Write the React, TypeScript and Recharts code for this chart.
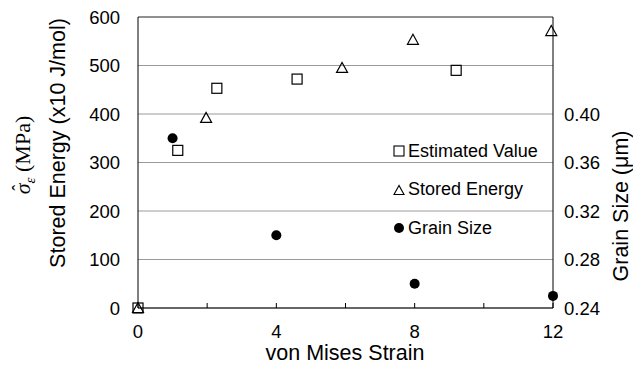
import React from 'react';
import {
  ComposedChart,
  Scatter,
  XAxis,
  YAxis,
  CartesianGrid,
  Legend,
  ReferenceLine,
} from 'recharts';

// Estimated value (open squares)
const estStrain = [0, 1.15, 2.28, 4.6, 9.2];
const estValue = [0, 325, 453, 472, 490];

// Stored energy (open triangles), x10 J/mol
const storedStrain = [0, 1.97, 5.9, 7.95, 11.95];
const storedEnergy = [0, 392, 495, 553, 571];

// Grain size (filled circles), um
const grainStrain = [1, 4, 8, 12];
const grainSize = [0.38, 0.3, 0.26, 0.25];

const xTicks = [0, 2, 4, 6, 8, 10, 12];
const xLabelTicks = [0, 4, 8, 12];
const leftTicks = [0, 100, 200, 300, 400, 500, 600];
const rightTicks = [0.24, 0.28, 0.32, 0.36, 0.4];

const FONT = 'Arial, "Liberation Sans", Helvetica, sans-serif';
const SERIF = '"Liberation Serif", "Times New Roman", serif';

const toPoints = (xs: number[], ys: number[]) => xs.map((x, i) => ({ x, y: ys[i] }));

const estData = toPoints(estStrain, estValue);
const storedData = toPoints(storedStrain, storedEnergy);
const grainData = toPoints(grainStrain, grainSize);

const SquareShape = (p: any) => (
  <rect x={p.cx - 5} y={p.cy - 5} width={10} height={10} fill="none" stroke="#000" strokeWidth={1.2} />
);

const TriangleShape = (p: any) => (
  <polygon
    points={`${p.cx},${p.cy - 5.5} ${p.cx - 5.5},${p.cy + 4.5} ${p.cx + 5.5},${p.cy + 4.5}`}
    fill="none"
    stroke="#000"
    strokeWidth={1.2}
  />
);

const CircleShape = (p: any) => <circle cx={p.cx} cy={p.cy} r={5} fill="#000" />;

const LEGEND_ITEMS = [
  { label: 'Estimated Value', icon: 'square' },
  { label: 'Stored Energy', icon: 'triangle' },
  { label: 'Grain Size', icon: 'circle' },
];

function LegendIcon({ kind }: { kind: string }) {
  return (
    <svg width={12} height={12} style={{ marginRight: 3, flexShrink: 0 }}>
      {kind === 'square' && <rect x={1} y={1} width={10} height={10} fill="none" stroke="#000" strokeWidth={1.1} />}
      {kind === 'triangle' && <polygon points="6,1.5 1,10.5 11,10.5" fill="none" stroke="#000" strokeWidth={1.1} />}
      {kind === 'circle' && <circle cx={6} cy={6} r={5} fill="#000" />}
    </svg>
  );
}

function renderLegend() {
  return (
    <div style={{ fontFamily: FONT, fontSize: 18, color: '#000' }}>
      {LEGEND_ITEMS.map((item) => (
        <div key={item.label} style={{ height: 38.5, display: 'flex', alignItems: 'center', whiteSpace: 'nowrap' }}>
          <LegendIcon kind={item.icon} />
          <span>{item.label}</span>
        </div>
      ))}
    </div>
  );
}

const rotated = (cx: number, cy: number): React.CSSProperties => ({
  position: 'absolute',
  left: cx,
  top: cy,
  transform: 'translate(-50%, -50%) rotate(-90deg)',
  whiteSpace: 'nowrap',
  lineHeight: 1,
});

export default function App() {
  return (
    <div style={{ position: 'absolute', left: 0, top: 0, width: 633, height: 366, background: '#fff' }}>
      <ComposedChart width={633} height={366} margin={{ top: 17, right: 20, left: 80, bottom: 28 }}>
        <CartesianGrid horizontal vertical={false} stroke="#9a9a9a" yAxisId="left" />
        <XAxis
          type="number"
          dataKey="x"
          domain={[0, 12]}
          ticks={xTicks}
          height={30}
          stroke="#000"
          tickSize={-5}
          tickMargin={22}
          tickFormatter={(v: number) => (xLabelTicks.includes(v) ? String(v) : '')}
          tick={{ fontSize: 18.5, fill: '#000', fontFamily: FONT }}
        />
        <YAxis
          yAxisId="left"
          type="number"
          dataKey="y"
          domain={[0, 600]}
          ticks={leftTicks}
          width={58}
          stroke="#000"
          tickLine={false}
          tickMargin={12}
          tick={{ fontSize: 18.5, fill: '#000', fontFamily: FONT }}
        />
        <YAxis
          yAxisId="right"
          orientation="right"
          type="number"
          dataKey="y"
          domain={[0.24, 0.48]}
          ticks={rightTicks}
          width={60}
          stroke="#000"
          tickLine={false}
          tickMargin={5}
          tickFormatter={(v: number) => v.toFixed(2)}
          tick={{ fontSize: 18.5, fill: '#000', fontFamily: FONT }}
        />
        <ReferenceLine yAxisId="left" y={600} stroke="#555" />
        <Scatter name="Grain Size" yAxisId="right" data={grainData} shape={CircleShape} isAnimationActive={false} />
        <Scatter name="Estimated Value" yAxisId="left" data={estData} shape={SquareShape} isAnimationActive={false} />
        <Scatter name="Stored Energy" yAxisId="left" data={storedData} shape={TriangleShape} isAnimationActive={false} />
        <Legend
          layout="vertical"
          align="center"
          verticalAlign="middle"
          content={renderLegend}
          wrapperStyle={{ left: 393, top: 132, width: 170, height: 116 }}
        />
      </ComposedChart>

      <div style={{ ...rotated(25, 155), fontFamily: SERIF, fontSize: 22 }}>
        <span style={{ position: 'relative', display: 'inline-block', fontStyle: 'italic' }}>
          σ
          <span
            style={{
              position: 'absolute',
              left: 1,
              right: -1,
              top: -2,
              textAlign: 'center',
              fontStyle: 'normal',
              fontSize: 18,
            }}
          >
            ˆ
          </span>
        </span>
        <sub style={{ fontStyle: 'italic', fontSize: 15 }}>ε</sub> (MPa)
      </div>
      <div style={{ ...rotated(59, 143), fontFamily: FONT, fontSize: 21.5 }}>Stored Energy (x10 J/mol)</div>
      <div style={{ ...rotated(622, 206), fontFamily: FONT, fontSize: 21.5 }}>Grain Size (μm)</div>
      <div
        style={{
          position: 'absolute',
          left: 345,
          top: 354,
          transform: 'translate(-50%, -50%)',
          whiteSpace: 'nowrap',
          lineHeight: 1,
          fontFamily: FONT,
          fontSize: 21.5,
        }}
      >
        von Mises Strain
      </div>
    </div>
  );
}
